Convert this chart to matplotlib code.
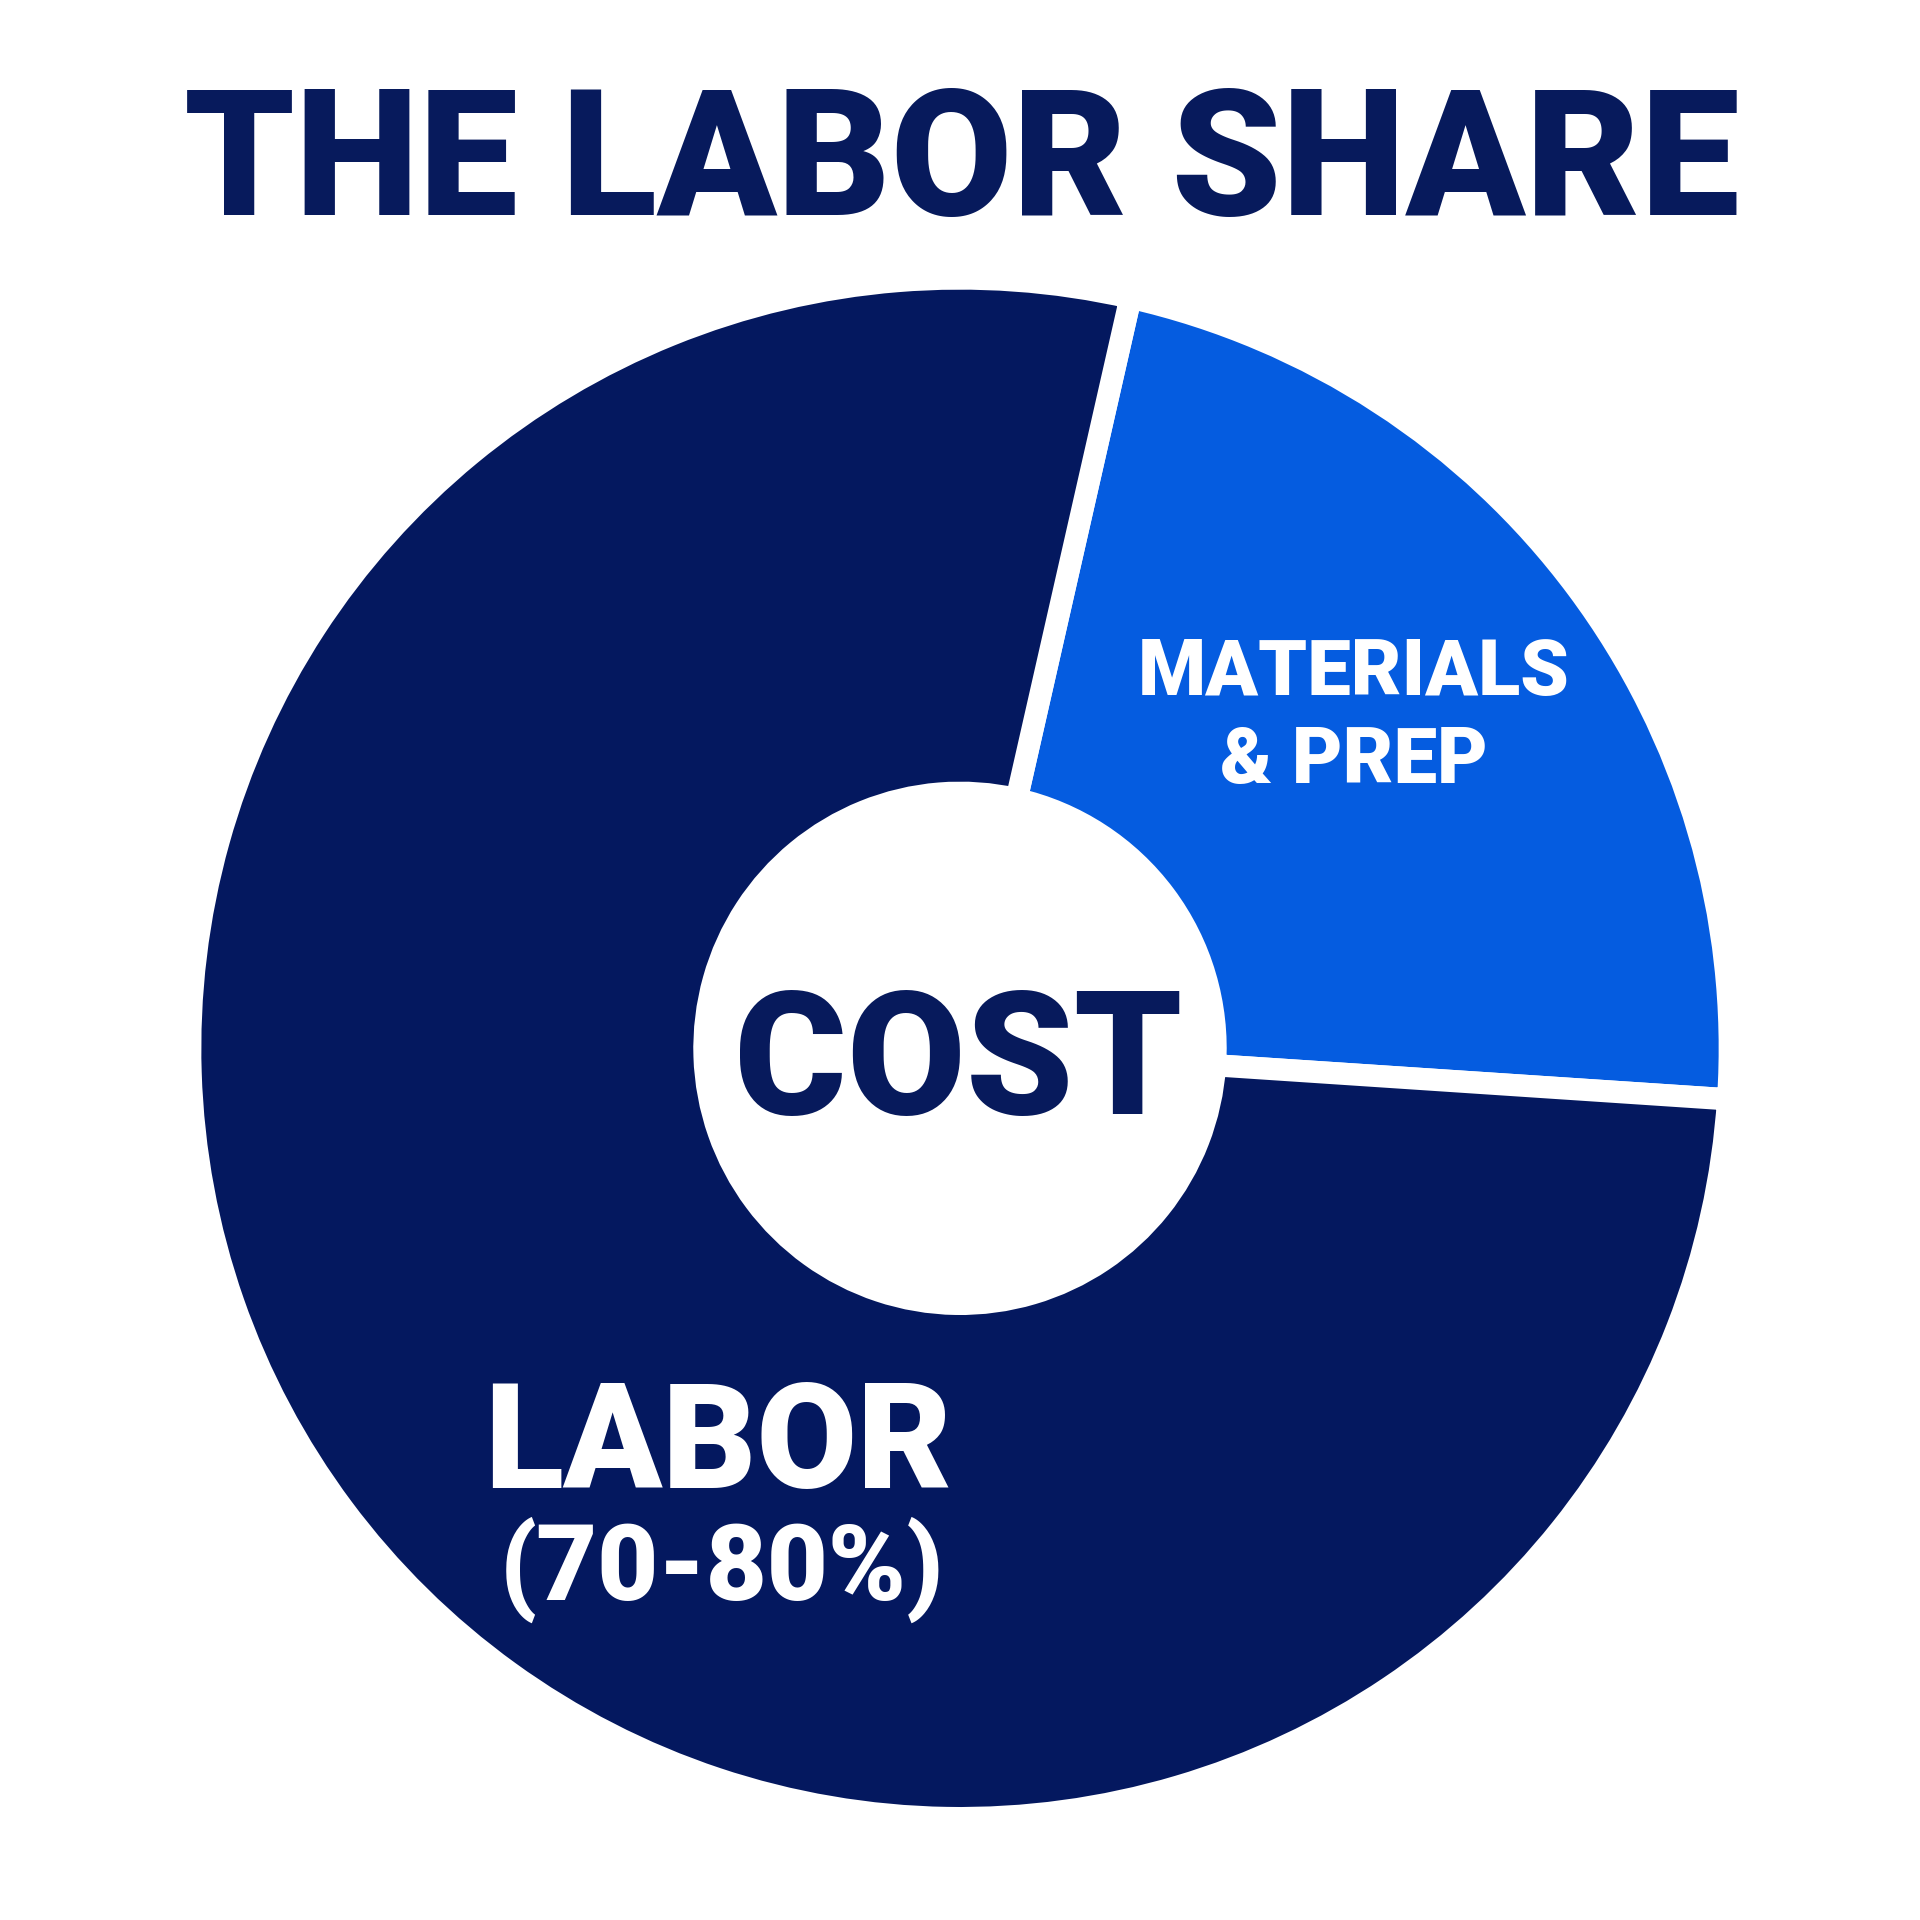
import matplotlib
matplotlib.use("Agg")
import matplotlib.pyplot as plt

# data
labels = ["MATERIALS\n& PREP", "LABOR"]
shares = [22.5, 77.5]
colors = ["#055ce0", "#04185f"]
navy = "#071a5c"

plt.rcParams['font.family'] = ['Roboto', 'DejaVu Sans']

fig = plt.figure(figsize=(19.2, 19.2), dpi=100)
fig.patch.set_facecolor("white")
ax = fig.add_axes([0, 0, 1, 1])

ax.pie(shares, colors=colors, startangle=-3.8, counterclock=True,
       radius=1.015,
       wedgeprops=dict(width=0.678, edgecolor="white", linewidth=16))

# pie() resets the limits, so set them afterwards
# donut centre sits a bit below the middle of the figure
half = 0.5 / 0.395
ax.set_xlim(-half, half)
ax.set_ylim(-0.454 * 2 * half, 0.546 * 2 * half)
ax.set_aspect("equal")
ax.axis("off")

# texts
fig.text(0.501, 0.888, "THE LABOR SHARE", ha="center", va="baseline",
         fontsize=127, fontweight="black", color=navy)
fig.text(0.499, 0.420, "COST", ha="center", va="baseline",
         fontsize=124, fontweight="black", color=navy)

fig.text(0.705, 0.638, "MATERIALS", ha="center", va="baseline",
         fontsize=56, fontweight="black", color="white")
fig.text(0.705, 0.592, "& PREP", ha="center", va="baseline",
         fontsize=56, fontweight="black", color="white")

fig.text(0.374, 0.225, "LABOR", ha="center", va="baseline",
         fontsize=105, fontweight="black", color="white")
fig.text(0.376, 0.167, "(70-80%)", ha="center", va="baseline",
         fontsize=76, fontweight="black", color="white")

fig.savefig("out.png", dpi=100, facecolor="white")
